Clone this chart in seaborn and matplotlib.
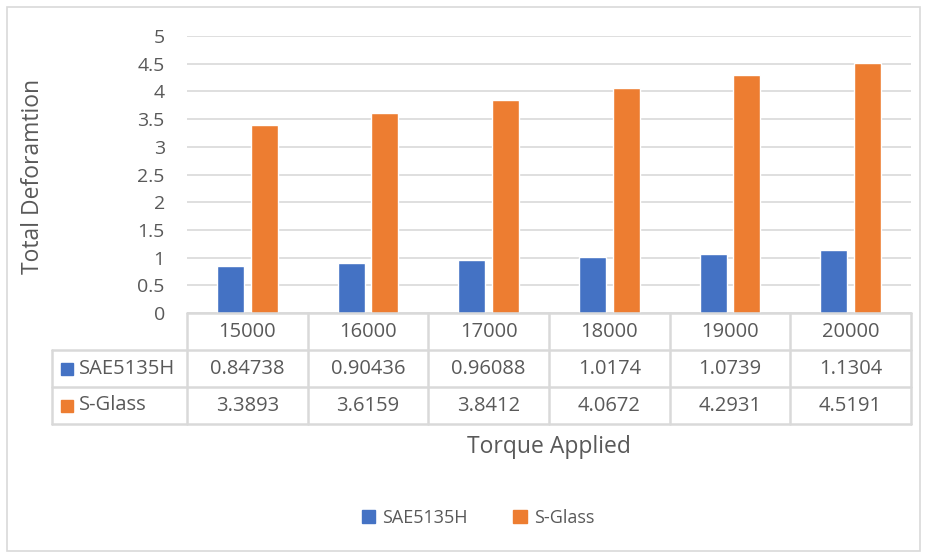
import pandas as pd
import seaborn as sns
import matplotlib.pyplot as plt
from matplotlib.lines import Line2D
from matplotlib.patches import Rectangle

# Datos
torque = ["15000", "16000", "17000", "18000", "19000", "20000"]
sae5135h = [0.84738, 0.90436, 0.96088, 1.0174, 1.0739, 1.1304]
s_glass = [3.3893, 3.6159, 3.8412, 4.0672, 4.2931, 4.5191]
series_names = ["SAE5135H", "S-Glass"]
colors = ["#4472C4", "#ED7D31"]
sae_labels = ["0.84738", "0.90436", "0.96088", "1.0174", "1.0739", "1.1304"]
glass_labels = ["3.3893", "3.6159", "3.8412", "4.0672", "4.2931", "4.5191"]

data = pd.DataFrame({
    "Torque": torque * 2,
    "Material": [series_names[0]] * 6 + [series_names[1]] * 6,
    "Deformation": sae5135h + s_glass,
})

sns.set_theme(style="white")
plt.rcParams["font.family"] = ["Open Sans", "DejaVu Sans"]
txt = "#595959"
grid = "#D9D9D9"

W, H = 928, 556
fig = plt.figure(figsize=(W / 100, H / 100), dpi=100)

def fx(x):
    return x / W

def fy(y):
    return 1 - y / H

# área del gráfico
x0, x1, ytop, ybot = 187, 911, 36, 313
ax = fig.add_axes([fx(x0), fy(ybot), fx(x1 - x0), (ybot - ytop) / H])
sns.barplot(data=data, x="Torque", y="Deformation", hue="Material",
            palette=colors, width=0.56, gap=0.2, ax=ax, legend=False,
            saturation=1)
ax.set_ylim(0, 5)
ax.set_xlim(-0.5, 5.5)
ax.set_yticks([0, 0.5, 1, 1.5, 2, 2.5, 3, 3.5, 4, 4.5, 5])
ax.set_yticklabels(["0", "0.5", "1", "1.5", "2", "2.5", "3", "3.5", "4", "4.5", "5"])
ax.tick_params(axis="y", length=0, pad=16, labelsize=14, labelcolor=txt)
ax.set_xticks([])
ax.set_xlabel("")
ax.set_ylabel("")
ax.yaxis.grid(True, color=grid, linewidth=1.2)
ax.set_axisbelow(True)
for s in ax.spines.values():
    s.set_visible(False)

# borde exterior
fig.add_artist(Rectangle((fx(7), fy(551)), fx(913), (551 - 7) / H,
                         fill=False, edgecolor=grid, linewidth=1.2,
                         transform=fig.transFigure))

def hline(y, xa, xb):
    fig.add_artist(Line2D([fx(xa), fx(xb)], [fy(y), fy(y)], color=grid,
                          linewidth=1.8, transform=fig.transFigure))

def vline(x, ya, yb):
    fig.add_artist(Line2D([fx(x), fx(x)], [fy(ya), fy(yb)], color=grid,
                          linewidth=1.8, transform=fig.transFigure))

# tabla de datos
col_w = (x1 - x0) / 6
rows = [313, 350, 387, 424]
hline(313, x0, x1)
for y in rows[1:]:
    hline(y, 52, x1)
vline(52, 350, 424)
for i in range(7):
    vline(x0 + i * col_w, 313, 424)

fs = 14.5
for i, t in enumerate(torque):
    cx = x0 + (i + 0.5) * col_w
    fig.text(fx(cx), fy(332), t, ha="center", va="center", fontsize=fs, color=txt)
    fig.text(fx(cx), fy(369), sae_labels[i], ha="center", va="center", fontsize=fs, color=txt)
    fig.text(fx(cx), fy(406), glass_labels[i], ha="center", va="center", fontsize=fs, color=txt)

for j, (name, c) in enumerate(zip(series_names, colors)):
    yc = 368.5 + 37 * j
    fig.add_artist(Rectangle((fx(61), fy(yc + 6)), fx(12), 12 / H, color=c,
                             transform=fig.transFigure))
    fig.text(fx(79), fy(yc), name, ha="left", va="center", fontsize=fs, color=txt)

# títulos de ejes
fig.text(fx(549), fy(447), "Torque Applied", ha="center", va="center",
         fontsize=16.5, color=txt)
fig.text(fx(33), fy(176), "Total Deforamtion", ha="center", va="center",
         rotation=90, fontsize=16.5, color=txt)

# leyenda
handles = [Rectangle((0, 0), 1, 1, color=c) for c in colors]
fig.legend(handles, series_names, loc="center", bbox_to_anchor=(fx(478), fy(518)),
           ncol=2, frameon=False, fontsize=13, labelcolor=txt,
           handlelength=0.75, handleheight=0.75, handletextpad=0.4, columnspacing=2.5)

plt.savefig("out.png", dpi=100)
